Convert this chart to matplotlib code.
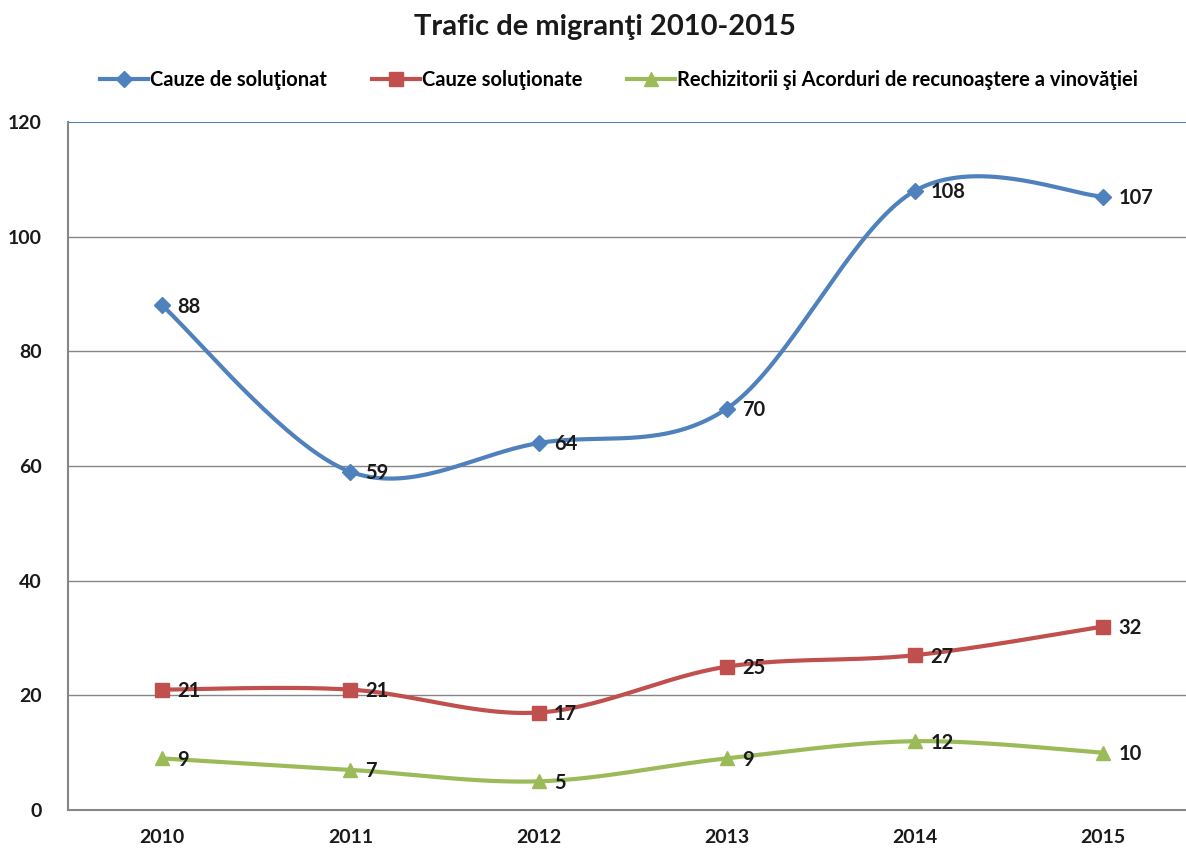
import numpy as np
import matplotlib
matplotlib.use("Agg")
import matplotlib.pyplot as plt
from matplotlib.lines import Line2D

years = ["2010", "2011", "2012", "2013", "2014", "2015"]
cauze_de_solutionat = [88, 59, 64, 70, 108, 107]
cauze_solutionate = [21, 21, 17, 25, 27, 32]
rechizitorii = [9, 7, 5, 9, 12, 10]

names = ["Cauze de soluţionat", "Cauze soluţionate",
         "Rechizitorii şi Acorduri de recunoaştere a vinovăţiei"]
colors = ["#4F81BD", "#C0504D", "#9BBB59"]
markers = ["D", "s", "^"]
msizes = [8, 10, 10]

plt.rcParams['font.family'] = ['Lato', 'DejaVu Sans']
plt.rcParams['font.weight'] = 'bold'


def smooth(xs, ys, n=40):
    """Excel-like Bezier smoothing through points."""
    xs = np.asarray(xs, float); ys = np.asarray(ys, float)
    P = np.column_stack([xs, ys])
    out = []
    for i in range(len(P) - 1):
        p0 = P[i - 1] if i > 0 else P[i]
        p1 = P[i]; p2 = P[i + 1]
        p3 = P[i + 2] if i + 2 < len(P) else P[i + 1]
        c1 = p1 + (p2 - p0) / 6.0
        c2 = p2 - (p3 - p1) / 6.0
        t = np.linspace(0, 1, n)[:, None]
        seg = ((1 - t) ** 3) * p1 + 3 * ((1 - t) ** 2) * t * c1 + 3 * (1 - t) * t ** 2 * c2 + t ** 3 * p2
        out.append(seg if i == 0 else seg[1:])
    arr = np.vstack(out)
    return arr[:, 0], arr[:, 1]


fig = plt.figure(figsize=(11.86, 8.49), dpi=100)
ax = fig.add_axes([68 / 1186, 1 - 810 / 849, (1186 - 68) / 1186, (810 - 122) / 849])

x = np.arange(len(years))
series = [cauze_de_solutionat, cauze_solutionate, rechizitorii]
for vals, c, m, ms in zip(series, colors, markers, msizes):
    sx, sy = smooth(x, vals)
    ax.plot(sx, sy, color=c, lw=3.0, zorder=3, solid_capstyle='round')
    ax.plot(x, vals, ls='none', marker=m, color=c, ms=ms, zorder=4)
    for xi, v in zip(x, vals):
        ax.annotate(str(v), (xi, v), xytext=(11, -1), textcoords='offset points',
                    ha='left', va='center', fontsize=14.5, fontweight='bold', color='#1a1a1a', zorder=5)

ax.set_xlim(-0.5, 5.44)
ax.set_ylim(0, 120)
ax.set_yticks(range(0, 121, 20))
ax.set_xticks(x)
ax.set_xticklabels(years)
for y in range(20, 120, 20):
    ax.axhline(y, color='#868686', lw=1.0, zorder=1)
ax.axhline(120, color='#4F81BD', lw=1.5, zorder=1)

for s in ['top', 'right']:
    ax.spines[s].set_visible(False)
for s in ['left', 'bottom']:
    ax.spines[s].set_color('#868686')
    ax.spines[s].set_linewidth(1.5)
ax.tick_params(axis='both', length=0, labelsize=14, colors='#1a1a1a')
ax.tick_params(axis='y', pad=19)
ax.tick_params(axis='x', pad=14)
for lab in ax.get_xticklabels() + ax.get_yticklabels():
    lab.set_fontweight('bold')

fig.text(0.51, 1 - 27 / 849, "Trafic de migranţi 2010-2015", ha='center', va='center',
         fontsize=21, fontweight='bold', color='#1a1a1a')

handles = [Line2D([0], [0], color=c, lw=3.0, marker=m, ms=ms)
           for c, m, ms in zip(colors, markers, msizes)]
fig.legend(handles, names, loc='center', bbox_to_anchor=(0.522, 1 - 80 / 849), ncol=3,
           frameon=False, handlelength=2.4, handletextpad=0.1, columnspacing=2.2,
           prop={'weight': 'bold', 'size': 14.5})

fig.savefig("out.png", dpi=100)
